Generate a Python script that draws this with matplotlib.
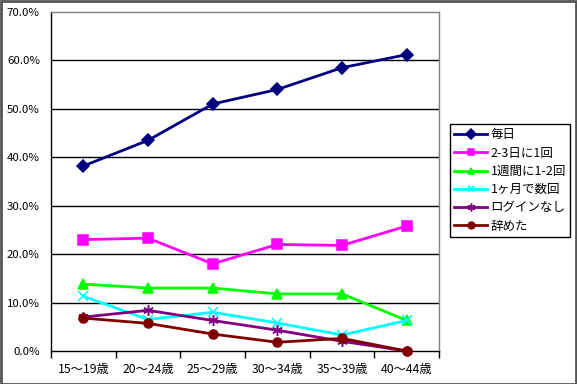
import matplotlib.pyplot as plt
from matplotlib.patches import Rectangle
from matplotlib.ticker import FuncFormatter
import numpy as np

plt.rcParams['font.family'] = ['Noto Sans CJK JP', 'DejaVu Sans']

categories = ["15～19歳", "20～24歳", "25～29歳", "30～34歳", "35～39歳", "40～44歳"]
mainichi = [38.2, 43.5, 51.0, 54.0, 58.5, 61.2]
sanichi = [23.0, 23.3, 18.0, 22.0, 21.8, 25.8]
shukan = [13.8, 13.0, 13.0, 11.8, 11.8, 6.3]
tsuki = [11.3, 6.5, 8.0, 5.8, 3.3, 6.3]
login_nashi = [7.0, 8.4, 6.3, 4.3, 2.0, 0.0]
yameta = [6.8, 5.7, 3.5, 1.8, 2.6, 0.0]

W, H = 577, 384
fig = plt.figure(figsize=(W / 100, H / 100), dpi=100)
ax = fig.add_axes([51 / W, (H - 351) / H, (439 - 51) / W, (351 - 12) / H])

x = np.arange(len(categories))
ast = (6, 2, 0)
series = [
    ("毎日", mainichi, "#000080", "D", 6.5),
    ("2-3日に1回", sanichi, "#FF00FF", "s", 6.5),
    ("1週間に1-2回", shukan, "#00FF00", "^", 6.5),
    ("1ヶ月で数回", tsuki, "#00FFFF", "x", 6.5),
    ("ログインなし", login_nashi, "#800080", ast, 7.5),
    ("辞めた", yameta, "#800000", "o", 6.5),
]
for name, vals, col, mk, ms in series:
    ax.plot(x, vals, color=col, lw=2, marker=mk, markersize=ms,
            markeredgewidth=1.1, label=name, clip_on=False, zorder=3)

ax.set_xlim(-0.5, len(categories) - 0.5)
ax.set_ylim(0, 70)
ax.set_yticks(np.arange(0, 71, 10))
ax.yaxis.set_major_formatter(FuncFormatter(lambda v, p: f"{v:.1f}%"))
ax.set_xticks(x)
ax.set_xticklabels(categories)
ax.set_xticks(np.arange(-0.5, len(categories), 1), minor=True)
ax.tick_params(axis="x", which="major", length=0, pad=9, labelsize=8.8)
ax.tick_params(axis="x", which="minor", length=5, width=1, direction="out", color="black")
ax.tick_params(axis="y", length=0, pad=8, labelsize=8.2)

for v in range(10, 70, 10):
    ax.axhline(v, color="black", lw=1, zorder=1)

ax.spines["left"].set_color("black")
ax.spines["bottom"].set_color("black")
ax.spines["top"].set_color("#808080")
ax.spines["right"].set_color("#808080")
for s in ax.spines.values():
    s.set_linewidth(1)

leg = fig.legend(loc="upper left", bbox_to_anchor=(450 / W, 1 - 124 / H),
                 bbox_transform=fig.transFigure, borderaxespad=0,
                 fancybox=False, framealpha=1, edgecolor="black",
                 fontsize=9, handlelength=2.6, handletextpad=0.3,
                 labelspacing=0.42, borderpad=0.35, markerscale=0.75)
leg.get_frame().set_linewidth(1)

fig.patches.append(Rectangle((0.5 / W, 0.5 / H), 1 - 1.5 / W, 1 - 1.5 / H,
                             transform=fig.transFigure, fill=False,
                             edgecolor="#555555", lw=2))

fig.savefig("out.png", dpi=100)
